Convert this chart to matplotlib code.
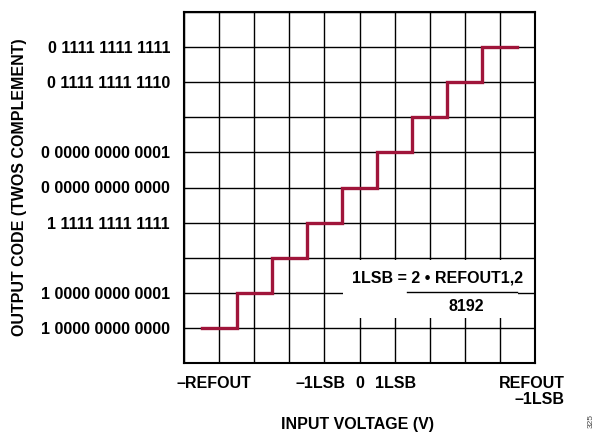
import matplotlib
matplotlib.use("Agg")
import matplotlib.pyplot as plt
from matplotlib.patches import Rectangle
import matplotlib.transforms as mtransforms

plt.rcParams['font.family'] = ['Liberation Sans', 'DejaVu Sans']
plt.rcParams['font.weight'] = 'bold'

# ---- data ----
step_edges = [0.5, 1.5, 2.5, 3.5, 4.5, 5.5, 6.5, 7.5, 8.5, 9.5]
step_levels = [1, 2, 3, 4, 5, 6, 7, 8, 9, 9]
ytick_pos = [9, 8, 6, 5, 4, 2, 1]
ytick_labels = ["0 1111 1111 1111", "0 1111 1111 1110", "0 0000 0000 0001",
                "0 0000 0000 0000", "1 1111 1111 1111", "1 0000 0000 0001",
                "1 0000 0000 0000"]
xlabel_pos = [0.84, 3.89, 5.02, 6.04]
xlabel_text = ["\u2013REFOUT", "\u20131LSB", "0", "1LSB"]

FS = 11.5
fig = plt.figure(figsize=(5.97, 4.33), dpi=100)
ax = fig.add_axes([184/597, 1-363/433, 351/597, 351/433])
ax.set_xlim(0, 10)
ax.set_ylim(0, 10)

ax.set_xticks(range(11))
ax.set_yticks(range(11), minor=True)
ax.set_yticks(ytick_pos)
ax.set_yticklabels(ytick_labels, fontsize=FS, fontweight='bold')
ax.tick_params(axis='both', which='both', length=0)
ax.tick_params(axis='y', pad=10)
ax.set_xticklabels([])
ax.grid(True, which='both', color='black', linewidth=1.0)
ax.set_axisbelow(True)
for s in ax.spines.values():
    s.set_linewidth(1.5)

ax.step(step_edges, step_levels, where='post', color='#A0153A', linewidth=2.4,
        zorder=3, solid_joinstyle='miter')

# annotation box
ax.add_patch(Rectangle((4.52, 1.28), 5.0, 1.65, facecolor='white',
                       edgecolor='none', zorder=2))
ax.plot([6.34, 9.5], [2.03, 2.03], color='black', linewidth=1.0, zorder=4)
ax.text(7.22, 2.41, "1LSB = 2 \u2022 REFOUT1,2", ha='center', va='center',
        fontsize=FS, fontweight='bold', zorder=5)
ax.text(8.03, 1.62, "8192", ha='center', va='center', fontsize=FS,
        fontweight='bold', zorder=5)

trans = mtransforms.blended_transform_factory(ax.transData, ax.transAxes)
for xp, t in zip(xlabel_pos, xlabel_text):
    ax.text(xp, -20/351, t, transform=trans, ha='center', va='center',
            fontsize=FS, fontweight='bold', clip_on=False)
ax.text(10.85, -20/351, "REFOUT", transform=trans, ha='right', va='center',
        fontsize=FS, fontweight='bold', clip_on=False)
ax.text(10.85, -36.5/351, "\u20131LSB", transform=trans, ha='right', va='center',
        fontsize=FS, fontweight='bold', clip_on=False)

fig.text(357.5/597, 1-424/433, "INPUT VOLTAGE (V)", ha='center', va='center',
         fontsize=FS, fontweight='bold')
fig.text(20/597, 1-187.5/433, "OUTPUT CODE (TWOS COMPLEMENT)", ha='center',
         va='center', rotation=90, fontsize=FS, fontweight='bold')
fig.text(591/597, 1-421/433, "325", ha='center', va='center', rotation=90,
         fontsize=6, fontweight='normal', color='#444444')

fig.savefig("out.png", dpi=100)
